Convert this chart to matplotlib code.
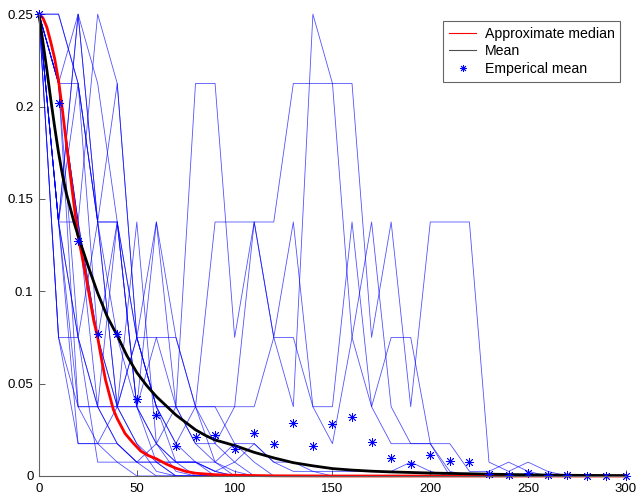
import matplotlib.pyplot as plt
from matplotlib.lines import Line2D
import numpy as np

plt.rcParams['font.family'] = ['Liberation Sans', 'DejaVu Sans']

# Sample paths, read every 10 steps (x = 0..300); each digit indexes a level
levels = [0.25, 0.2125, 0.1375, 0.075, 0.0375, 0.0175, 0.0075, 0.0025, 0.0]
path_x = list(range(0, 301, 10))
paths = [
    "0334568888888888888888888888888",
    "0244456888888888888888888888888",
    "0113457888888888888888888888888",
    "0012346888888888888888888888888",
    "0101245788888888888888888888888",
    "0202233345688888888888888888888",
    "0120134567888888888888888888888",
    "0355434688888888888888888888888",
    "0255566668888888888888888888888",
    "0144444444568888888888888888888",
    "0223232456888888888888888888888",
    "0132434546788888888888888888888",
    "0236666667888888888888888888888",
    "0345688888888888888888888888888",
    "0212243411323244245557888888888",
    "0012134442222111132422267678888",
    "0202425455443401343355776788888",
    "0124242344423345324558888888888",
    "0234565667656777777678888888888",
    "0123445666556678888888888888888",
]

# Approximate median (red)
med_x = [0, 2, 4, 6, 8, 10, 12, 14, 16, 18, 20, 22, 24, 26, 28, 30, 32, 34, 36, 38,
         40, 44, 48, 52, 56, 60, 65, 70, 75, 80, 90, 100, 120, 150, 200, 250, 300]
med_y = [0.25, 0.248, 0.243, 0.235, 0.226, 0.214, 0.198, 0.180, 0.163, 0.146,
         0.130, 0.119, 0.108, 0.096, 0.084, 0.075, 0.063, 0.052, 0.044, 0.036,
         0.031, 0.023, 0.018, 0.0135, 0.011, 0.0093, 0.0065, 0.0042, 0.0025, 0.0015,
         0.0007, 0.0004, 0.0001, 0.0, 0.0, 0.0, 0.0]

# Mean (black)
mean_x = [0, 2, 4, 6, 8, 10, 12, 14, 16, 18, 20, 25, 30, 35, 40, 45, 50, 55, 60, 65,
          70, 75, 80, 85, 90, 100, 110, 120, 130, 140, 150, 160, 170, 180, 190, 200,
          210, 220, 240, 260, 280, 300]
mean_y = [0.25, 0.235, 0.220, 0.204, 0.189, 0.175, 0.163, 0.153, 0.145, 0.137,
          0.130, 0.114, 0.099, 0.086, 0.076, 0.065, 0.056, 0.049, 0.043, 0.038,
          0.033, 0.029, 0.025, 0.022, 0.0195, 0.0165, 0.0128, 0.0098, 0.0072, 0.0055,
          0.0040, 0.0032, 0.0026, 0.0022, 0.0019, 0.0016, 0.0014, 0.0012, 0.0008,
          0.0005, 0.0003, 0.0002]

# Emperical mean (stars)
emp_y = [0.25, 0.202, 0.127, 0.077, 0.077, 0.0415, 0.033, 0.016, 0.021, 0.022,
         0.0146, 0.0233, 0.0173, 0.0287, 0.0162, 0.028, 0.032, 0.0184, 0.0098, 0.0065,
         0.0114, 0.0081, 0.0076, 0.001, 0.0005, 0.0015, 0.0008, 0.0003, 0.0002, 0.0002,
         0.0002]

fig = plt.figure(figsize=(6.38, 4.95), dpi=100)
ax = fig.add_axes([0.0611, 0.0384, 0.920, 0.933])

for p in paths:
    y = [levels[int(c)] for c in p]
    ax.plot(path_x, y, color='#0000ff', lw=0.6, alpha=0.68, clip_on=False)

ax.plot(med_x, med_y, color='red', lw=2.0, clip_on=False)
ax.plot(mean_x, mean_y, color='black', lw=2.0, clip_on=False)
ax.plot(path_x, emp_y, linestyle='none', marker=(8, 2, 0), markersize=6.5,
        markeredgecolor='blue', markeredgewidth=0.6, color='blue', clip_on=False)

ax.set_xlim(0, 300)
ax.set_ylim(0, 0.25)
ax.set_xticks([0, 50, 100, 150, 200, 250, 300])
ax.set_xticklabels(['0', '50', '100', '150', '200', '250', '300'])
ax.set_yticks([0, 0.05, 0.1, 0.15, 0.2, 0.25])
ax.set_yticklabels(['0', '0.05', '0.1', '0.15', '0.2', '0.25'])
ax.tick_params(direction='in', length=4, width=0.6, colors='#404040',
               labelcolor='black', labelsize=9.5)
ax.tick_params(axis='y', pad=4)
ax.tick_params(axis='x', pad=5)
for s in ['top', 'right']:
    ax.spines[s].set_visible(False)
for s in ['left', 'bottom']:
    ax.spines[s].set_color('#606060')
    ax.spines[s].set_linewidth(0.8)

handles = [
    Line2D([], [], color='red', lw=0.8),
    Line2D([], [], color='#505050', lw=0.8),
    Line2D([], [], linestyle='none', marker=(8, 2, 0), markersize=5,
           markeredgecolor='blue', markeredgewidth=0.6),
]
leg = ax.legend(handles, ['Approximate median', 'Mean', 'Emperical mean'],
                loc='upper right', bbox_to_anchor=(0.99, 0.985), fontsize=10.2,
                frameon=True, fancybox=False, borderpad=0.4, labelspacing=0.25,
                handlelength=1.9, handletextpad=0.6, borderaxespad=0)
leg.get_frame().set_edgecolor('#404040')
leg.get_frame().set_linewidth(0.8)

fig.savefig('out.png', dpi=100)
